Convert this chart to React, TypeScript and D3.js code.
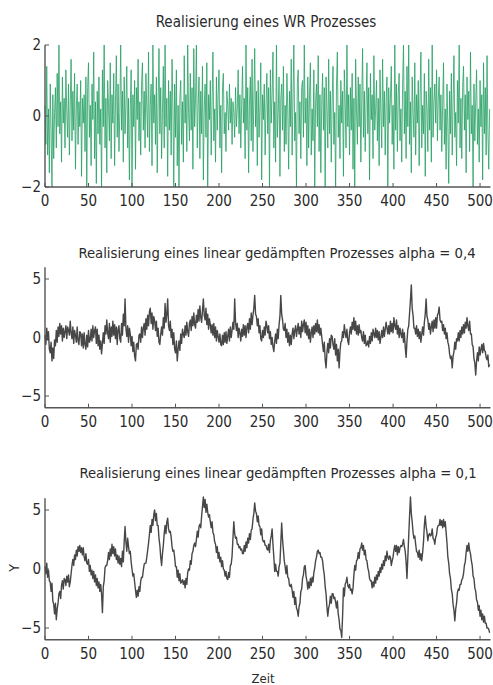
import React from "react";
import * as d3 from "d3";

const wrTitle = "Realisierung eines WR Prozesses";
const ar04Title = "Realisierung eines linear gedämpften Prozesses alpha = 0,4";
const ar01Title = "Realisierung eines linear gedämpften Prozesses alpha = 0,1";
const xLabel = "Zeit";
const yLabel = "Y";
const xTicks = [0, 50, 100, 150, 200, 250, 300, 350, 400, 450, 500];
const yTicksWR = [-2, 0, 2];
const yTicksAR = [-5, 0, 5];

const wrValues = [
  0.3,-0.8,1.4,-1.1,0.2,-1.6,0.9,-0.4,-2,0.6,-1.2,0.1,0.8,-0.9,1.2,-0.3,
  2,-0.5,0.4,-1.3,1.1,-0.2,0.5,-0.9,1.3,0.1,-0.6,0.9,-1.1,0.3,1.6,-0.7,
  0.7,-0.4,1.2,-1.5,0.2,0.9,-0.8,0.4,-0.3,1.0,-1.7,0.5,-0.2,0.6,-1.0,1.1,
  -2,0.8,1.5,-0.6,0.3,-1.4,0.9,-0.1,1.8,-1.2,0.4,-1.9,0.7,-0.5,1.1,-0.8,
  0.2,-2,1.3,-0.3,2,-0.9,0.5,-1.6,1.0,0.3,-0.7,1.5,-1.2,0.6,-0.2,1.2,
  -1.4,0.4,1.7,-0.6,0.9,-1.0,0.1,2,-0.4,0.7,-1.3,1.1,-0.5,0.3,1.4,-0.9,
  0.5,-1.8,0.2,1.3,-2,0.6,-0.3,1.0,-1.5,0.8,-0.1,1.6,-0.7,0.4,-1.1,0.9,
  1.5,-0.4,0.7,-0.9,1.2,0.2,-0.6,1.8,-1.0,0.3,0.9,-1.4,2,-0.2,0.6,-0.8,
  1.1,-1.6,0.4,1.9,-0.5,0.8,-1.2,0.1,1.4,-0.9,2,-0.3,0.5,-1.7,1.0,-0.4,
  0.7,-1.1,1.6,0.2,-2,0.9,-0.6,1.3,-1.4,0.3,-2,0.5,1.0,-0.8,0.4,-1.3,
  1.7,-0.2,0.6,-1.0,2,0.1,-0.7,1.2,-0.4,0.8,-1.5,1.9,-0.3,0.5,2,-0.9,
  0.3,1.1,-1.2,0.7,-0.5,1.4,-1.8,0.2,0.9,-0.6,1.5,-2,0.6,-0.1,1.0,-1.1,
  0.4,1.8,-0.7,0.2,-1.3,1.1,-0.4,0.6,1.3,-0.9,0.3,-1.6,0.8,1.2,-0.5,0.1,
  -1.0,0.7,0.3,-0.4,0.9,-0.2,0.5,-0.8,0.4,0.1,-0.6,0.8,-0.3,0.2,1.3,-0.5,
  0.6,-0.9,0.3,1.4,-0.2,0.5,-1.2,2,-0.4,0.8,-1.6,0.3,1.1,-0.7,1.6,-1.0,
  0.4,1.9,-0.3,0.7,-1.4,1.0,-0.6,0.2,1.5,-1.8,0.6,-0.1,0.9,-1.1,0.3,1.2,
  -0.5,0.8,-2,1.3,-0.2,0.6,1.8,-0.9,0.4,-1.3,2,-0.6,0.1,1.1,-1.7,0.5,
  0.9,-0.4,1.4,-1.0,0.3,-0.8,1.2,0.2,-1.5,0.7,-0.3,1.6,-1.1,0.5,2,-0.7,
  0.1,-2,0.9,1.3,-0.5,0.4,-1.2,0.8,1.0,-0.6,2,-0.2,0.5,-1.4,1.1,-0.9,
  0.6,1.5,-1.1,0.2,-0.7,1.3,-2,0.4,0.9,-0.3,1.7,-1.0,0.6,-1.6,0.3,1.2,
  -0.4,0.8,-2,1.1,0.2,-0.9,1.6,-0.5,0.7,-1.3,0.4,1.4,-0.8,0.1,-2,0.9,
  1.8,-0.6,0.3,-1.2,1.0,-0.2,0.7,-1.7,1.3,0.4,-0.9,2,-0.3,0.6,-1.1,0.8,
  -0.4,1.2,-1.5,0.5,-2,1.6,0.2,-0.8,1.1,-0.3,0.9,-1.3,0.4,1.9,-0.6,0.7,
  -1.0,0.3,1.5,-0.5,0.8,-1.8,1.2,-0.1,0.6,-1.2,1.7,-0.4,0.2,1.0,-0.7,0.5,
  -1.4,1.3,0.1,-0.9,1.6,-0.3,0.7,-1.1,0.4,1.1,-2,0.8,-0.2,0.5,1.4,-0.8,
  0.3,-1.5,2,-0.4,0.9,-1.0,0.6,1.2,-0.7,0.2,-1.3,0.9,2,-0.5,0.7,-1.2,
  1.4,-0.3,2,-0.8,0.4,-1.6,1.1,0.1,-0.6,1.5,-1.1,0.6,-0.2,1.0,-1.4,0.5,
  1.8,-0.9,0.3,-0.5,1.2,-1.7,0.7,0.2,-1.0,1.6,-0.4,0.8,-1.3,2,-0.6,0.4,
  0.9,-0.2,1.3,-0.7,0.5,1.1,-0.4,0.6,-1.0,0.3,1.5,-0.8,0.2,-1.5,0.9,-0.3,
  -1.9,0.7,-0.5,1.2,-1.1,0.4,1.7,-0.6,0.1,-1.4,1.0,-0.2,2,-0.9,0.5,-1.2,
  0.8,1.4,-0.4,0.6,-1.6,1.1,-0.1,0.7,-1.0,1.8,-0.5,0.3,-2,0.9,-0.7,0.4,
  1.3,-0.8,0.2,-1.3,1.0,-0.3,0.6,-1.8,1.5,-0.5,0.8,-1.1,1.7,-0.4,-1.5,0.2,
];

const ar04Values = [
  0.2,-0.6,0.8,-0.2,0.5,-1.0,-1.3,-0.4,-2.0,-0.9,-1.8,-0.2,-0.7,0.6,-0.4,0.9,
  0.1,1.2,0.3,1.0,-0.3,0.8,0.0,0.5,1.0,-0.1,0.9,0.6,0.2,1.4,0.4,-0.1,
  0.9,-0.5,0.6,0.2,-0.4,0.9,-0.3,-0.6,0.5,0.4,-0.7,0.3,-0.9,0.4,-0.6,-1.0,
  0.2,-0.8,0.6,-0.4,-0.2,0.7,-0.3,1.0,0.0,0.6,0.9,-0.5,0.7,-0.7,0.2,-1.0,
  -0.3,-1.4,-0.5,0.4,-0.5,1.0,0.3,1.5,0.4,-0.1,1.2,-0.4,0.9,0.1,1.4,0.2,
  1.1,-0.1,0.9,-0.6,0.7,1.0,-0.1,-0.4,1.2,0.2,2.0,1.0,3.3,0.8,0.1,1.0,
  -0.4,0.8,0.3,-0.7,0.1,-1.2,-0.4,-1.6,-2.0,-0.6,-0.5,-1.0,0.2,0.3,-0.4,0.9,
  0.0,0.8,1.2,0.2,1.6,0.7,1.9,1.0,2.2,2.5,1.2,2.1,0.7,1.8,1.4,0.6,
  1.4,0.1,0.8,-0.4,-0.6,0.3,0.9,0.2,1.7,0.8,2.9,1.3,2.0,3.3,1.0,0.6,
  1.4,0.0,0.7,-0.6,0.4,-1.0,-1.3,-0.3,-2.0,-1.0,-0.3,-1.1,0.3,-0.5,0.7,0.3,
  0.0,1.0,0.2,1.3,0.5,0.1,1.2,1.5,0.6,1.8,1.0,2.1,1.1,0.8,1.9,1.3,
  2.4,1.4,2.7,1.7,1.3,2.3,3.3,1.9,1.5,2.5,1.1,2.0,0.7,1.6,1.1,0.4,
  1.1,0.2,1.2,0.0,0.9,-0.3,0.6,0.1,-0.4,0.3,-0.6,-0.7,0.2,-0.6,0.4,-0.4,
  0.5,-0.5,0.1,0.7,-0.3,0.9,0.0,0.6,1.3,0.7,3.3,1.3,0.6,1.2,0.0,0.8,
  0.4,-0.3,0.7,0.1,1.1,0.2,1.0,0.0,0.9,1.2,0.4,1.6,0.7,2.1,1.1,1.9,
  2.5,3.6,2.0,1.8,1.0,1.6,0.4,1.0,-0.1,-0.3,0.6,0.0,0.9,0.2,1.4,1.0,
  0.4,1.0,-0.1,0.5,-0.6,0.0,-0.8,-1.2,-0.3,0.3,-0.5,0.7,-0.1,1.1,1.8,3.6,
  2.0,1.5,0.7,0.6,1.2,0.0,0.7,-0.4,0.4,-0.7,0.2,-0.6,0.3,0.8,-0.1,0.6,
  1.0,0.1,0.7,1.2,0.3,0.9,0.0,1.4,0.5,1.1,1.5,0.4,1.3,0.2,1.0,-0.1,
  0.7,-0.4,0.4,0.9,0.0,1.0,0.3,1.2,0.5,1.5,0.4,1.1,0.2,0.8,0.1,-0.6,
  -1.2,-0.4,-1.9,-2.6,-1.3,-0.5,-1.3,-0.1,-0.9,0.2,0.1,-0.6,-1.0,-0.1,-1.5,-0.6,
  -2.0,-1.0,-2.6,-1.2,-0.4,-0.3,0.5,0.0,1.1,0.4,0.0,0.7,-0.3,-0.6,0.4,0.9,
  0.3,1.3,0.7,1.7,0.6,1.4,0.3,1.0,0.2,1.1,0.4,0.6,0.0,-0.3,0.5,-0.5,
  0.2,-0.7,-0.6,-0.3,-0.8,0.1,-0.5,0.4,-0.3,0.7,0.3,0.0,0.8,0.0,0.6,-0.2,
  0.5,-0.5,0.0,0.6,0.0,0.9,0.1,0.7,1.3,0.8,0.3,1.0,0.3,1.4,0.5,1.2,
  0.4,1.7,1.0,0.7,1.5,0.3,1.0,0.0,0.8,0.3,0.0,0.7,-0.4,0.4,-0.8,-1.7,
  -0.3,0.7,1.0,2.1,3.2,4.5,2.5,1.9,0.8,0.8,0.3,1.0,0.1,0.7,-0.1,0.5,
  -0.4,0.3,0.9,0.2,1.3,2.0,3.3,1.8,1.5,0.7,1.2,0.3,0.9,1.4,0.5,1.5,
  0.8,1.7,0.8,1.9,2.1,2.6,1.5,1.3,1.4,0.6,1.1,0.3,0.8,-0.1,0.4,-0.4,
  -0.7,-1.4,-1.8,-1.6,-2.6,-1.6,-1.2,-0.4,-1.0,-0.1,-0.3,0.4,-0.3,0.6,0.0,0.9,
  0.3,1.1,0.4,1.3,0.8,1.7,1.0,0.6,1.4,0.3,0.3,-0.6,-0.8,-1.8,-2.2,-3.2,
  -2.0,-1.3,-2.0,-0.8,-1.5,-1.0,-0.6,-1.3,-0.5,-1.1,-1.2,-1.7,-1.9,-1.5,-2.5,-2.3,
];

const ar01Values = [
  0.2,-0.4,0.5,-0.7,-0.1,-1.0,-1.1,-1.9,-1.2,-2.7,-3.0,-3.8,-2.9,-4.3,-3.4,-2.9,
  -2.1,-1.9,-2.5,-1.4,-1.0,-1.7,-0.8,-0.9,-1.4,-0.6,-1.1,-0.5,-1.5,-1.1,-0.4,0.3,
  0.8,0.3,1.2,0.8,1.6,1.1,1.9,1.5,2.0,1.4,1.8,1.2,1.8,1.0,0.7,1.3,
  0.5,0.4,0.8,-0.2,0.3,-0.5,-0.1,-0.8,-0.2,-1.1,-0.5,-1.4,-0.8,-1.6,-1.1,-1.9,
  -1.3,-2.1,-3.7,-1.5,-1.0,0.1,0.3,0.3,0.7,1.4,0.8,1.7,1.1,2.1,1.3,1.9,
  1.1,1.7,0.8,1.2,0.5,1.1,0.4,0.9,0.2,1.5,0.6,2.3,3.6,2.3,1.5,2.6,
  1.9,1.3,1.5,0.6,0.0,-0.6,-0.4,-1.1,-1.8,-2.4,-1.8,-2.3,-1.5,-1.9,-1.0,-0.7,
  -0.7,-0.1,0.4,0.5,0.5,1.0,1.6,2.2,2.9,3.7,3.1,4.2,3.7,4.6,5.0,4.1,
  4.7,3.7,3.7,2.6,2.0,1.0,0.3,1.3,2.0,3.0,3.7,3.0,4.0,4.3,3.4,3.1,
  3.2,2.7,1.9,1.5,1.6,1.0,0.2,0.2,-0.7,-0.1,-1.0,-0.4,-1.2,-1.1,-0.9,-1.3,
  -1.0,-1.6,-0.8,-1.3,-0.3,0.0,-0.1,0.7,0.4,1.3,1.5,2.0,2.2,1.9,2.5,3.2,
  2.7,3.6,3.8,3.5,4.5,5.3,6.1,5.2,5.9,4.8,5.5,4.8,4.4,4.6,4.0,3.5,
  4.0,3.1,2.9,2.3,2.1,1.4,1.9,0.9,1.4,0.6,1.0,0.2,0.7,0.0,-0.1,-0.6,
  -0.2,-0.8,-0.9,-0.3,-0.7,0.3,0.4,1.1,2.6,4.0,3.0,2.6,2.7,2.1,2.1,1.8,
  1.9,1.6,1.7,1.3,1.3,2.0,1.5,2.3,1.8,2.6,2.2,3.0,2.5,3.3,3.4,4.2,
  4.7,5.6,4.9,4.7,4.0,4.5,3.7,3.6,2.9,3.4,2.5,2.3,2.4,2.0,2.0,1.7,
  1.6,2.1,1.4,2.4,2.8,3.4,2.1,1.0,-0.2,0.4,-0.2,-0.2,-0.6,0.2,0.5,2.2,
  3.9,2.5,1.6,0.7,0.2,-0.4,0.3,-0.7,-0.8,-1.4,-1.5,-1.3,-1.8,-2.4,-1.9,-3.0,
  -2.4,-3.3,-3.5,-4.0,-3.2,-2.9,-1.9,-1.7,-0.8,-0.5,0.2,0.3,-0.6,-1.0,-1.7,-1.1,
  -1.6,-0.8,-1.4,-0.7,-1.1,-0.3,0.1,0.7,1.0,1.5,1.6,1.3,1.4,1.0,1.0,0.7,
  0.0,-0.5,-1.5,-2.1,-3.2,-4.0,-3.3,-3.0,-2.3,-2.9,-2.1,-2.1,-2.5,-2.4,-2.8,-3.3,
  -2.7,-3.8,-4.3,-5.1,-5.2,-5.8,-4.0,-1.6,-2.3,-1.3,-1.1,-0.7,-1.4,-1.6,-1.3,-1.8,
  -1.7,-2.1,-1.6,-0.5,0.3,-0.1,0.7,0.8,1.4,0.9,1.7,1.8,2.2,1.6,2.0,1.2,
  1.6,0.8,0.7,0.1,-0.2,-0.8,-1.0,-1.0,-1.6,-1.1,-1.5,-0.7,-1.2,-0.5,-0.9,-0.2,
  -0.6,0.1,-0.3,0.4,0.0,0.7,0.3,1.1,0.7,1.5,1.0,0.8,1.1,1.0,0.3,0.7,
  1.0,1.6,2.0,1.5,2.0,1.2,1.9,1.4,1.8,2.0,1.9,2.1,2.5,1.9,1.5,0.6,
  -0.8,1.0,2.8,4.5,6.1,4.7,4.0,3.1,2.6,2.8,2.1,1.5,1.4,1.0,1.6,0.8,
  1.3,0.7,1.4,2.3,3.7,4.5,3.6,3.1,2.4,2.9,3.0,2.8,2.9,3.4,2.6,2.5,
  2.1,2.7,2.9,3.5,3.7,3.7,4.2,3.7,4.1,3.5,4.2,3.6,4.0,3.1,2.2,1.0,
  0.5,-0.4,-0.8,-1.7,-2.1,-3.0,-3.5,-4.4,-3.4,-2.9,-2.0,-1.7,-1.8,-1.3,-1.3,-0.9,
  -0.8,-0.4,0.3,0.6,1.4,2.0,1.5,2.2,1.6,1.3,0.7,0.3,-0.6,-0.8,-1.6,-1.9,
  -2.6,-2.8,-3.5,-3.1,-4.0,-3.5,-4.3,-3.8,-4.5,-4.0,-4.6,-4.6,-5.0,-5.0,-5.1,-5.4,
];

const W = 493;
const H = 685;
const FONT = "'Liberation Sans Narrow', 'DejaVu Sans Condensed', 'Arial Narrow', sans-serif";
const TXT = "#2a2a2a";
const AX = "#555";

const x = d3.scaleLinear().domain([0, 512]).range([45, 490.5]);

type PanelProps = {
  values: number[];
  yDomain: [number, number];
  yRange: [number, number];
  yTicks: number[];
  title: string;
  titleY: number;
  titleX: number;
  titleSize: number;
  color: string;
  width: number;
  opacity: number;
};

function Panel(p: PanelProps) {
  const y = d3.scaleLinear().domain(p.yDomain).range(p.yRange);
  const line = d3
    .line<number>()
    .x((_, i) => x(i))
    .y((d) => y(d));
  const x0 = x.range()[0];
  const x1 = x.range()[1];
  const yb = y.range()[0];
  const yt = y.range()[1];
  return (
    <g>
      <text x={p.titleX} y={p.titleY} textAnchor="middle" fontFamily={FONT} fontSize={p.titleSize} fill={TXT}>
        {p.title}
      </text>
      <path d={line(p.values) || ""} fill="none" stroke={p.color} strokeWidth={p.width} strokeOpacity={p.opacity} strokeLinejoin="round" />
      <line x1={x0} x2={x0} y1={yt} y2={yb} stroke={AX} strokeWidth={1.4} />
      <line x1={x0} x2={x1} y1={yb} y2={yb} stroke={AX} strokeWidth={1.4} />
      {xTicks.map((t) => (
        <g key={"x" + t}>
          <line x1={x(t)} x2={x(t)} y1={yb} y2={yb - 4} stroke={AX} strokeWidth={1} />
          <text x={x(t)} y={yb + 19} textAnchor="middle" fontFamily={FONT} fontSize={15} fill={TXT}>
            {t}
          </text>
        </g>
      ))}
      {p.yTicks.map((t) => (
        <g key={"y" + t}>
          <line x1={x0} x2={x0 + 4} y1={y(t)} y2={y(t)} stroke={AX} strokeWidth={1} />
          <text x={x0 - 4} y={y(t) + 5} textAnchor="end" fontFamily={FONT} fontSize={15} fill={TXT}>
            {t < 0 ? "\u2212" + Math.abs(t) : t}
          </text>
        </g>
      ))}
    </g>
  );
}

export default function App() {
  return (
    <svg width={W} height={H} style={{ position: "absolute", left: 0, top: 0, background: "#fff" }}>
      <rect width={W} height={H} fill="#fff" />
      <Panel values={wrValues} yDomain={[-2, 2]} yRange={[187, 45]} yTicks={yTicksWR} title={wrTitle} titleX={266} titleY={27} titleSize={15} color="#26a063" width={1} opacity={0.8} />
      <Panel values={ar04Values} yDomain={[-6, 6]} yRange={[407.7, 267.3]} yTicks={yTicksAR} title={ar04Title} titleX={277} titleY={258} titleSize={14.7} color="#333" width={1.4} opacity={0.9} />
      <Panel values={ar01Values} yDomain={[-6, 6]} yRange={[639.8, 498.2]} yTicks={yTicksAR} title={ar01Title} titleX={278} titleY={478} titleSize={14.7} color="#333" width={1.4} opacity={0.9} />
      <text x={263} y={683} textAnchor="middle" fontFamily={FONT} fontSize={13} fill={TXT}>
        {xLabel}
      </text>
      <text transform="translate(19,568) rotate(-90)" textAnchor="middle" fontFamily={FONT} fontSize={14} fill={TXT}>
        {yLabel}
      </text>
    </svg>
  );
}
